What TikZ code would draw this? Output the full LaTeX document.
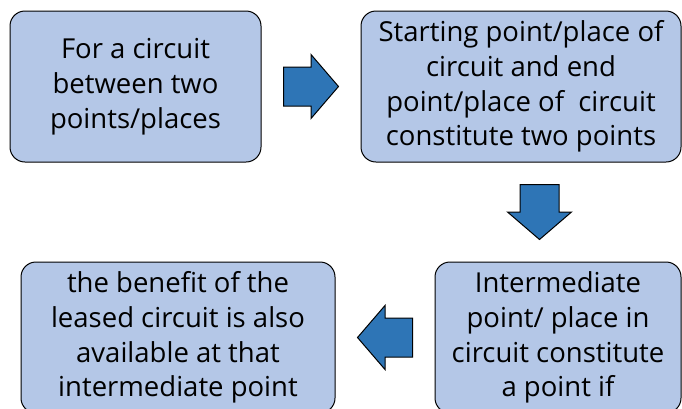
\documentclass[tikz,border=0pt]{standalone}
\usepackage{fontspec}
\setmainfont{Open Sans}
\usetikzlibrary{calc}

\definecolor{boxblue}{HTML}{B4C7E7}
\definecolor{arrowblue}{HTML}{2E75B6}

\begin{document}
\begin{tikzpicture}[x=1pt, y=-1pt,
    stepbox/.style={draw, line width=1pt, fill=boxblue, rounded corners=15pt,
      align=center, inner sep=0pt, minimum height=\boxh pt,
      font=\fontsize{27.5}{34.8}\selectfont},
    blockarrow/.style={draw, line width=1pt, fill=arrowblue, line join=miter},
  ]
  \def\boxh{151}
  \def\shaftw{19.5}
  \def\headw{32}
  \def\arrl{27.5}

  \useasboundingbox (0, 0) rectangle (682, 408);

  \node[stepbox, minimum width=251pt] (circ) at (135.5, 86.5)
    {For a circuit\\between two\\points/places};
  \node[stepbox, minimum width=320pt] (ends) at (521, 86.5)
    {Starting point/place of\\circuit and end\\point/place of~ circuit\\constitute two points};
  \node[stepbox, minimum width=246pt] (inter) at (558, 337.5)
    {Intermediate\\point/ place in\\circuit constitute\\a point if};
  \node[stepbox, minimum width=314pt] (benefit) at (178, 337.5)
    {the benefit of the\\leased circuit is also\\available at that\\intermediate point};

  % block arrows half way between the boxes
  \foreach \from/\to/\ang in {circ.east/ends.west/0, ends.south/inter.north/-90, inter.west/benefit.east/180}{
    \begin{scope}[shift={($(\from)!0.5!(\to)$)}, rotate=\ang]
      \draw[blockarrow] (-\arrl, -\shaftw) -- (0, -\shaftw) -- (0, -\headw) -- (\arrl, 0)
        -- (0, \headw) -- (0, \shaftw) -- (-\arrl, \shaftw) -- cycle;
    \end{scope}
  }
\end{tikzpicture}
\end{document}
